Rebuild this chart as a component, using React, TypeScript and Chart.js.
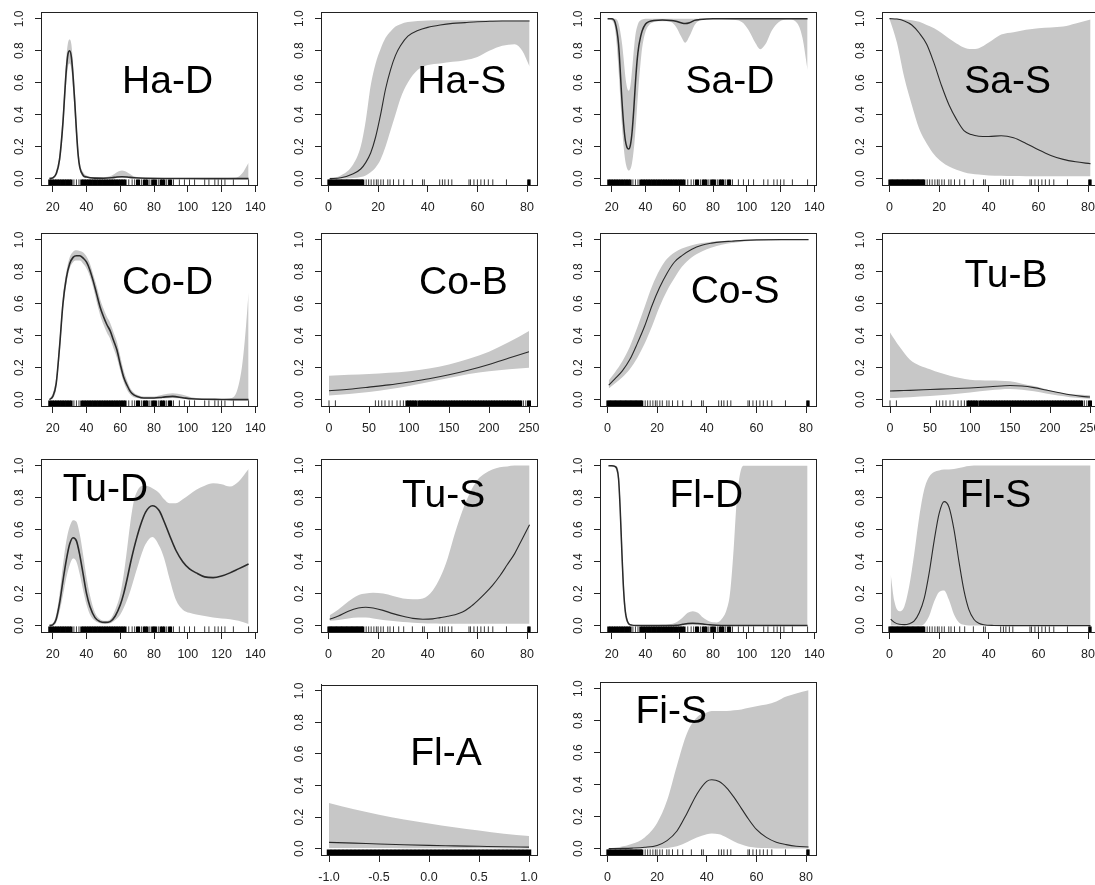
import React, { useEffect, useRef } from "react";
import { Chart, registerables } from "chart.js";

Chart.register(...registerables);

// ---------- axis ticks ----------
const Y_TICKS = [0, 0.2, 0.4, 0.6, 0.8, 1.0];
const Y_TICK_LABELS = ["0.0", "0.2", "0.4", "0.6", "0.8", "1.0"];
const D_TICKS = [20, 40, 60, 80, 100, 120, 140];
const D_TICK_LABELS = ["20", "40", "60", "80", "100", "120", "140"];
const S_TICKS = [0, 20, 40, 60, 80];
const S_TICK_LABELS = ["0", "20", "40", "60", "80"];
const B_TICKS = [0, 50, 100, 150, 200, 250];
const B_TICK_LABELS = ["0", "50", "100", "150", "200", "250"];
const A_TICKS = [-1, -0.5, 0, 0.5, 1];
const A_TICK_LABELS = ["-1.0", "-0.5", "0.0", "0.5", "1.0"];

// ---------- rug observations ----------
const RUG_D = [18, 19, 20, 21, 22, 23, 24, 25, 26, 27, 28, 29, 30, 31, 32.5, 34, 35.5, 37, 38, 39, 40, 41, 42, 43, 44, 45, 46, 47, 48, 49, 50, 51, 52, 53, 54, 55, 56, 57, 58, 59, 60, 61, 62, 63, 65, 67, 68.5, 70, 71, 72.5, 74, 75, 76, 77.5, 79, 80, 81, 82.5, 84, 85, 86, 87.5, 89, 90, 91.5, 95, 98, 101, 104, 110, 112.5, 116, 118, 120, 122, 127, 136];
const RUG_S = [0, 0.5, 1, 1.5, 2, 2.5, 3, 3.5, 4, 4.5, 5, 5.5, 6, 6.5, 7, 7.5, 8, 8.5, 9, 9.5, 10, 10.5, 11, 11.5, 12, 12.5, 13, 13.5, 14, 15.2, 16.2, 17.2, 18.3, 19.3, 20, 21.1, 22.1, 23.9, 24.8, 26.2, 28.3, 30.3, 33.8, 37.9, 38.6, 44.8, 45.9, 46.9, 48.3, 49.7, 56.6, 57.2, 58.6, 60, 61.4, 62.8, 64.4, 66.2, 71.7, 80.5, 81];
const RUG_B = [0, 8, 58, 62, 66, 70, 75, 79, 85, 89, 93, 97, 99, 101, 103, 105, 107, 109, 112, 114, 116, 118, 120, 122, 124, 126, 128, 130, 132, 134, 136, 138, 140, 142, 144, 146, 148, 150, 152, 154, 156, 158, 160, 162, 164, 166, 168, 170, 172, 174, 176, 178, 180, 182, 184, 186, 188, 190, 192, 194, 196, 198, 200, 202, 204, 206, 208, 210, 212, 214, 216, 218, 220, 222, 224, 226, 228, 230, 232, 234, 236, 238, 240, 243, 246, 249, 251];
const RUG_A = [-1, -0.96, -0.92, -0.88, -0.84, -0.8, -0.76, -0.72, -0.68, -0.64, -0.6, -0.56, -0.52, -0.48, -0.44, -0.4, -0.36, -0.32, -0.28, -0.24, -0.2, -0.16, -0.12, -0.08, -0.04, 0, 0.04, 0.08, 0.12, 0.16, 0.2, 0.24, 0.28, 0.32, 0.36, 0.4, 0.44, 0.48, 0.52, 0.56, 0.6, 0.64, 0.68, 0.72, 0.76, 0.8, 0.84, 0.88, 0.92, 0.96, 1];

// ---------- series ----------
const HAD_X = [18, 20, 22, 24, 26, 27, 28, 29, 30, 31, 32, 33, 34, 35, 36, 38, 40, 45, 50, 55, 58, 61, 64, 68, 75, 90, 110, 128, 132, 136];
const HAD_MEAN = [0, 0.005, 0.03, 0.12, 0.35, 0.52, 0.68, 0.78, 0.8, 0.76, 0.64, 0.48, 0.3, 0.15, 0.07, 0.02, 0.01, 0.003, 0.002, 0.005, 0.01, 0.012, 0.01, 0.005, 0.002, 0.001, 0, 0, 0, 0];
const HAD_LO = [0, 0.002, 0.02, 0.09, 0.29, 0.45, 0.6, 0.7, 0.72, 0.68, 0.56, 0.4, 0.24, 0.11, 0.05, 0.01, 0.005, 0.001, 0.001, 0.002, 0.004, 0.005, 0.004, 0.002, 0.001, 0, 0, 0, 0, 0];
const HAD_HI = [0.01, 0.01, 0.05, 0.16, 0.42, 0.6, 0.76, 0.85, 0.87, 0.84, 0.72, 0.56, 0.37, 0.2, 0.1, 0.04, 0.02, 0.01, 0.01, 0.02, 0.04, 0.05, 0.04, 0.015, 0.005, 0.003, 0.002, 0.005, 0.03, 0.1];

const HAS_X = [0.5, 5, 10, 13, 15, 17, 19, 21, 23, 25, 27, 29, 32, 36, 40, 45, 50, 55, 60, 65, 70, 75, 78, 81];
const HAS_MEAN = [0, 0.005, 0.03, 0.06, 0.1, 0.16, 0.26, 0.4, 0.56, 0.68, 0.77, 0.83, 0.89, 0.925, 0.945, 0.96, 0.97, 0.975, 0.98, 0.983, 0.985, 0.985, 0.985, 0.985];
const HAS_LO = [0, 0, 0.003, 0.01, 0.02, 0.04, 0.07, 0.12, 0.2, 0.3, 0.4, 0.5, 0.6, 0.68, 0.71, 0.72, 0.73, 0.74, 0.76, 0.8, 0.83, 0.84, 0.8, 0.7];
const HAS_HI = [0.005, 0.02, 0.09, 0.2, 0.36, 0.58, 0.72, 0.81, 0.88, 0.92, 0.95, 0.965, 0.978, 0.985, 0.988, 0.99, 0.99, 0.99, 0.99, 0.99, 0.99, 0.99, 0.99, 0.99];

const SAD_X = [17.5, 20, 22, 24, 26, 27, 28, 29, 30, 31, 32, 33, 34, 35, 36, 37, 38, 40, 42, 45, 50, 55, 58, 61, 63.5, 66, 69, 72, 80, 90, 97, 101, 105, 108, 111, 115, 119, 125, 130, 133, 136];
const SAD_MEAN = [1, 1, 0.975, 0.84, 0.49, 0.34, 0.24, 0.195, 0.185, 0.21, 0.29, 0.43, 0.6, 0.74, 0.83, 0.885, 0.925, 0.967, 0.982, 0.99, 0.992, 0.99, 0.985, 0.975, 0.97, 0.975, 0.99, 0.995, 1, 1, 1, 1, 1, 1, 1, 1, 1, 1, 1, 1, 1];
const SAD_LO = [1, 0.99, 0.93, 0.68, 0.33, 0.2, 0.11, 0.065, 0.05, 0.06, 0.1, 0.18, 0.3, 0.45, 0.6, 0.72, 0.82, 0.92, 0.96, 0.98, 0.985, 0.98, 0.95, 0.89, 0.85, 0.89, 0.96, 0.99, 1, 0.995, 0.98, 0.93, 0.85, 0.81, 0.84, 0.93, 0.98, 0.995, 0.97, 0.88, 0.68];
const SAD_HI = [1, 1, 1, 0.97, 0.85, 0.75, 0.64, 0.57, 0.55, 0.58, 0.68, 0.8, 0.9, 0.95, 0.98, 0.99, 0.995, 1, 1, 1, 1, 1, 1, 1, 1, 1, 1, 1, 1, 1, 1, 1, 1, 1, 1, 1, 1, 1, 1, 1, 1];

const SAS_X = [0, 3, 6, 9, 12, 15, 18, 21, 24, 27, 30, 33, 36, 40, 45, 50, 55, 60, 65, 70, 75, 81];
const SAS_MEAN = [1, 0.997, 0.985, 0.96, 0.91, 0.84, 0.72, 0.58, 0.46, 0.37, 0.3, 0.275, 0.265, 0.263, 0.268, 0.255, 0.22, 0.18, 0.145, 0.12, 0.105, 0.093];
const SAS_LO = [1, 0.85, 0.63, 0.46, 0.31, 0.22, 0.15, 0.105, 0.075, 0.055, 0.04, 0.03, 0.025, 0.02, 0.018, 0.016, 0.015, 0.015, 0.015, 0.015, 0.015, 0.015];
const SAS_HI = [1, 1, 0.995, 0.99, 0.98, 0.96, 0.94, 0.91, 0.875, 0.845, 0.82, 0.81, 0.815, 0.85, 0.9, 0.915, 0.93, 0.94, 0.945, 0.95, 0.97, 0.995];

const COD_X = [18, 20, 22, 24, 26, 28, 30, 32, 34, 36, 38, 40, 42, 44, 46, 48, 50, 52, 54, 56, 58, 60, 62, 64, 66, 68, 70, 74, 80, 85, 91, 97, 102, 110, 120, 126, 129, 132, 134, 136];
const COD_MEAN = [0, 0.02, 0.1, 0.33, 0.6, 0.76, 0.85, 0.89, 0.9, 0.9, 0.885, 0.86, 0.81, 0.74, 0.66, 0.58, 0.52, 0.47, 0.43, 0.37, 0.31, 0.22, 0.14, 0.09, 0.05, 0.03, 0.02, 0.01, 0.01, 0.015, 0.02, 0.012, 0.005, 0.002, 0.001, 0, 0, 0, 0, 0];
const COD_LO = [0, 0.01, 0.07, 0.28, 0.55, 0.72, 0.82, 0.86, 0.87, 0.87, 0.85, 0.82, 0.77, 0.7, 0.61, 0.53, 0.47, 0.42, 0.38, 0.32, 0.26, 0.18, 0.11, 0.06, 0.03, 0.015, 0.01, 0.004, 0.004, 0.007, 0.01, 0.005, 0.001, 0, 0, 0, 0, 0, 0, 0];
const COD_HI = [0.005, 0.04, 0.14, 0.38, 0.65, 0.8, 0.89, 0.925, 0.935, 0.93, 0.92, 0.895, 0.85, 0.78, 0.71, 0.63, 0.57, 0.52, 0.48, 0.42, 0.36, 0.27, 0.18, 0.12, 0.07, 0.045, 0.03, 0.02, 0.02, 0.03, 0.04, 0.03, 0.015, 0.006, 0.004, 0.01, 0.05, 0.2, 0.4, 0.67];

const COB_X = [0, 25, 50, 75, 100, 125, 150, 175, 200, 225, 250];
const COB_MEAN = [0.055, 0.065, 0.078, 0.092, 0.11, 0.13, 0.155, 0.185, 0.22, 0.26, 0.3];
const COB_LO = [0.025, 0.035, 0.048, 0.065, 0.085, 0.11, 0.135, 0.16, 0.178, 0.19, 0.2];
const COB_HI = [0.15, 0.155, 0.16, 0.168, 0.178, 0.195, 0.22, 0.255, 0.3, 0.36, 0.43];

const COS_X = [0.5, 3, 6, 9, 12, 15, 18, 21, 24, 27, 30, 34, 38, 42, 46, 50, 55, 60, 70, 81];
const COS_MEAN = [0.09, 0.13, 0.18, 0.25, 0.35, 0.46, 0.59, 0.7, 0.79, 0.86, 0.9, 0.94, 0.965, 0.978, 0.986, 0.99, 0.995, 0.998, 1, 1];
const COS_LO = [0.07, 0.1, 0.14, 0.19, 0.26, 0.35, 0.46, 0.58, 0.68, 0.76, 0.83, 0.89, 0.925, 0.95, 0.968, 0.978, 0.988, 0.993, 0.998, 1];
const COS_HI = [0.12, 0.17, 0.24, 0.33, 0.45, 0.58, 0.71, 0.81, 0.88, 0.92, 0.945, 0.965, 0.978, 0.987, 0.992, 0.995, 0.998, 0.999, 1, 1];

const TUB_X = [0, 12, 25, 50, 75, 100, 125, 150, 165, 180, 195, 210, 225, 240, 250];
const TUB_MEAN = [0.054, 0.056, 0.058, 0.063, 0.068, 0.073, 0.08, 0.088, 0.085, 0.075, 0.06, 0.045, 0.03, 0.02, 0.016];
const TUB_LO = [0.01, 0.012, 0.015, 0.022, 0.032, 0.045, 0.058, 0.066, 0.062, 0.052, 0.038, 0.025, 0.015, 0.009, 0.006];
const TUB_HI = [0.42, 0.33, 0.25, 0.19, 0.15, 0.125, 0.12, 0.115, 0.1, 0.085, 0.065, 0.045, 0.035, 0.03, 0.028];

const TUD_X = [18, 20, 22, 24, 26, 28, 30, 32, 34, 36, 38, 40, 42, 45, 48, 51, 54, 57, 60, 62, 64, 66, 68, 70, 72, 75, 79, 83, 86, 89, 93, 97, 101, 105, 110, 115, 120, 125, 130, 136];
const TUD_MEAN = [0, 0.005, 0.04, 0.14, 0.28, 0.41, 0.51, 0.55, 0.53, 0.44, 0.32, 0.2, 0.12, 0.05, 0.025, 0.02, 0.025, 0.06, 0.13, 0.2, 0.29, 0.39, 0.48, 0.56, 0.63, 0.71, 0.75, 0.72, 0.65, 0.57, 0.47, 0.4, 0.355, 0.33, 0.305, 0.3, 0.31, 0.33, 0.355, 0.385];
const TUD_LO = [0, 0.002, 0.02, 0.09, 0.19, 0.3, 0.38, 0.42, 0.4, 0.32, 0.22, 0.13, 0.07, 0.03, 0.015, 0.012, 0.015, 0.035, 0.07, 0.11, 0.16, 0.22, 0.29, 0.36, 0.43, 0.51, 0.555, 0.5, 0.42, 0.3, 0.16, 0.1, 0.08, 0.07, 0.06, 0.05, 0.045, 0.04, 0.03, 0.01];
const TUD_HI = [0.01, 0.015, 0.07, 0.2, 0.38, 0.53, 0.62, 0.66, 0.65, 0.57, 0.44, 0.3, 0.19, 0.08, 0.04, 0.03, 0.04, 0.1, 0.2, 0.32, 0.48, 0.65, 0.78, 0.84, 0.87, 0.875, 0.86, 0.83, 0.79, 0.765, 0.765, 0.79, 0.82, 0.85, 0.875, 0.89, 0.885, 0.87, 0.9, 0.98];

const TUS_X = [0.5, 4, 8, 12, 15, 18, 22, 26, 30, 34, 38, 42, 45, 48, 51, 54, 57, 60, 63, 66, 69, 72, 75, 78, 81];
const TUS_MEAN = [0.04, 0.06, 0.09, 0.11, 0.115, 0.11, 0.095, 0.075, 0.058, 0.045, 0.04, 0.042, 0.05, 0.058, 0.068, 0.085, 0.115, 0.155, 0.2, 0.25, 0.31, 0.38, 0.45, 0.54, 0.63];
const TUS_LO = [0.03, 0.035, 0.045, 0.05, 0.05, 0.045, 0.035, 0.028, 0.022, 0.018, 0.015, 0.013, 0.012, 0.012, 0.012, 0.012, 0.012, 0.012, 0.012, 0.012, 0.012, 0.012, 0.012, 0.012, 0.012];
const TUS_HI = [0.065, 0.1, 0.15, 0.19, 0.2, 0.205, 0.2, 0.185, 0.17, 0.165, 0.17, 0.22, 0.3, 0.42, 0.58, 0.72, 0.83, 0.91, 0.95, 0.975, 0.99, 0.995, 1, 1, 1];

const FLD_X = [18, 20, 22, 23, 24, 25, 26, 27, 28, 29, 30, 32, 35, 40, 50, 58, 62, 65, 68, 71, 74, 78, 82, 85, 88, 90, 92, 94, 96, 98, 105, 120, 136];
const FLD_MEAN = [1, 1, 0.995, 0.98, 0.92, 0.72, 0.45, 0.22, 0.09, 0.035, 0.012, 0.003, 0.001, 0, 0, 0.002, 0.008, 0.013, 0.015, 0.013, 0.01, 0.005, 0.002, 0.001, 0.001, 0.001, 0.001, 0.001, 0.001, 0.001, 0.001, 0.001, 0.001];
const FLD_LO = [1, 0.995, 0.99, 0.96, 0.87, 0.63, 0.36, 0.15, 0.05, 0.02, 0.006, 0.001, 0, 0, 0, 0, 0.001, 0.002, 0.003, 0.002, 0.001, 0, 0, 0, 0, 0, 0, 0, 0, 0, 0, 0, 0];
const FLD_HI = [1, 1, 1, 0.995, 0.96, 0.8, 0.55, 0.3, 0.13, 0.05, 0.02, 0.006, 0.003, 0.002, 0.005, 0.02, 0.05, 0.08, 0.09, 0.08, 0.05, 0.025, 0.02, 0.04, 0.1, 0.2, 0.45, 0.78, 0.95, 1, 1, 1, 1];

const FLS_X = [0.5, 2, 4, 6, 8, 10, 12, 14, 16, 18, 20, 22, 24, 26, 28, 30, 32, 34, 36, 38, 42, 50, 60, 70, 81];
const FLS_MEAN = [0.04, 0.02, 0.008, 0.006, 0.012, 0.03, 0.08, 0.17, 0.33, 0.53, 0.7, 0.775, 0.74, 0.6, 0.4, 0.22, 0.1, 0.04, 0.015, 0.005, 0.001, 0, 0, 0, 0];
const FLS_LO = [0, 0, 0, 0, 0, 0, 0, 0.01, 0.06, 0.15, 0.21, 0.22, 0.16, 0.07, 0.02, 0.005, 0, 0, 0, 0, 0, 0, 0, 0, 0];
const FLS_HI = [0.32, 0.15, 0.09, 0.12, 0.25, 0.45, 0.68, 0.85, 0.93, 0.96, 0.97, 0.975, 0.975, 0.978, 0.985, 0.992, 0.997, 1, 1, 1, 1, 1, 1, 1, 1];

const FLA_X = [-1, -0.75, -0.5, -0.25, 0, 0.25, 0.5, 0.75, 1];
const FLA_MEAN = [0.04, 0.035, 0.03, 0.025, 0.021, 0.018, 0.015, 0.012, 0.01];
const FLA_LO = [0.005, 0.004, 0.004, 0.003, 0.003, 0.002, 0.002, 0.001, 0.001];
const FLA_HI = [0.29, 0.25, 0.215, 0.185, 0.16, 0.135, 0.115, 0.095, 0.08];

const FIS_X = [0.5, 5, 10, 15, 20, 24, 28, 32, 36, 40, 42, 45, 48, 51, 54, 57, 60, 64, 68, 72, 76, 81];
const FIS_MEAN = [0, 0.001, 0.003, 0.008, 0.02, 0.05, 0.11, 0.22, 0.34, 0.42, 0.43, 0.42, 0.38, 0.32, 0.25, 0.18, 0.12, 0.07, 0.04, 0.025, 0.015, 0.01];
const FIS_LO = [0, 0, 0, 0, 0.001, 0.004, 0.015, 0.04, 0.07, 0.09, 0.095, 0.09, 0.07, 0.045, 0.025, 0.012, 0.006, 0.003, 0.001, 0.001, 0, 0];
const FIS_HI = [0.002, 0.01, 0.03, 0.07, 0.16, 0.3, 0.52, 0.72, 0.82, 0.85, 0.86, 0.86, 0.86, 0.865, 0.87, 0.88, 0.89, 0.9, 0.92, 0.95, 0.97, 0.99];

// ---------- layout / style ----------
const COL_LEFT = [41, 321, 600, 882];
const ROW_TOP = [12, 233, 459, 682];
const BOX_W = 216;
const BOX_H = 173;
const AXIS_W = 42;
const AXIS_H = 40;
const PAD_T = 6;
const PAD_R = 14;
const CANVAS_W = AXIS_W + BOX_W + PAD_R;
const CANVAS_H = PAD_T + BOX_H + AXIS_H;
const FONT = '"Liberation Sans", Arial, Helvetica, sans-serif';
const BAND = "rgb(199,199,199)";
const LINE = "#2a2a2a";
const AXIS = "#222";
const RUG_Y = -0.023;

type XType = "D" | "S" | "B" | "A";
const XTYPES: Record<XType, { min: number; max: number; ticks: number[]; labels: string[]; rug: number[]; denseGap: number; denseW: number }> = {
  D: { min: 13, max: 141, ticks: D_TICKS, labels: D_TICK_LABELS, rug: RUG_D, denseGap: 1.05, denseW: 2.4 },
  S: { min: -3, max: 84, ticks: S_TICKS, labels: S_TICK_LABELS, rug: RUG_S, denseGap: 0.55, denseW: 2.2 },
  B: { min: -10, max: 260, ticks: B_TICKS, labels: B_TICK_LABELS, rug: RUG_B, denseGap: 2.1, denseW: 2.4 },
  A: { min: -1.08, max: 1.08, ticks: A_TICKS, labels: A_TICK_LABELS, rug: RUG_A, denseGap: 0.05, denseW: 4.5 },
};

type PanelDef = {
  name: string; row: number; col: number; xt: XType;
  xs: number[]; mean: number[]; lo: number[]; hi: number[];
  lx: number; ly: number; lw: number;
};

const PANELS: PanelDef[] = [
  { name: "Ha-D", row: 0, col: 0, xt: "D", xs: HAD_X, mean: HAD_MEAN, lo: HAD_LO, hi: HAD_HI, lx: 88, ly: 0.6, lw: 1.6 },
  { name: "Ha-S", row: 0, col: 1, xt: "S", xs: HAS_X, mean: HAS_MEAN, lo: HAS_LO, hi: HAS_HI, lx: 53.7, ly: 0.6, lw: 1.1 },
  { name: "Sa-D", row: 0, col: 2, xt: "D", xs: SAD_X, mean: SAD_MEAN, lo: SAD_LO, hi: SAD_HI, lx: 90, ly: 0.6, lw: 1.5 },
  { name: "Sa-S", row: 0, col: 3, xt: "S", xs: SAS_X, mean: SAS_MEAN, lo: SAS_LO, hi: SAS_HI, lx: 47.6, ly: 0.6, lw: 1.1 },
  { name: "Co-D", row: 1, col: 0, xt: "D", xs: COD_X, mean: COD_MEAN, lo: COD_LO, hi: COD_HI, lx: 88, ly: 0.725, lw: 1.6 },
  { name: "Co-B", row: 1, col: 1, xt: "B", xs: COB_X, mean: COB_MEAN, lo: COB_LO, hi: COB_HI, lx: 168, ly: 0.725, lw: 1.1 },
  { name: "Co-S", row: 1, col: 2, xt: "S", xs: COS_X, mean: COS_MEAN, lo: COS_LO, hi: COS_HI, lx: 51.4, ly: 0.67, lw: 1.1 },
  { name: "Tu-B", row: 1, col: 3, xt: "B", xs: TUB_X, mean: TUB_MEAN, lo: TUB_LO, hi: TUB_HI, lx: 145, ly: 0.77, lw: 1.1 },
  { name: "Tu-D", row: 2, col: 0, xt: "D", xs: TUD_X, mean: TUD_MEAN, lo: TUD_LO, hi: TUD_HI, lx: 51.2, ly: 0.845, lw: 1.6 },
  { name: "Tu-S", row: 2, col: 1, xt: "S", xs: TUS_X, mean: TUS_MEAN, lo: TUS_LO, hi: TUS_HI, lx: 46.4, ly: 0.81, lw: 1.1 },
  { name: "Fl-D", row: 2, col: 2, xt: "D", xs: FLD_X, mean: FLD_MEAN, lo: FLD_LO, hi: FLD_HI, lx: 76, ly: 0.81, lw: 1.5 },
  { name: "Fl-S", row: 2, col: 3, xt: "S", xs: FLS_X, mean: FLS_MEAN, lo: FLS_LO, hi: FLS_HI, lx: 42.7, ly: 0.81, lw: 1.1 },
  { name: "Fl-A", row: 3, col: 1, xt: "A", xs: FLA_X, mean: FLA_MEAN, lo: FLA_LO, hi: FLA_HI, lx: 0.17, ly: 0.6, lw: 1.1 },
  { name: "Fi-S", row: 3, col: 2, xt: "S", xs: FIS_X, mean: FIS_MEAN, lo: FIS_LO, hi: FIS_HI, lx: 25.7, ly: 0.85, lw: 1.1 },
];

function pts(xs: number[], ys: number[]) {
  return xs.map((x, i) => ({ x, y: ys[i] }));
}

function zeroPad(s: any) {
  s.paddingLeft = 0;
  s.paddingRight = 0;
  s.paddingTop = 0;
  s.paddingBottom = 0;
}

function isDense(arr: number[], i: number, gap: number) {
  if (i === undefined || i < 0 || i >= arr.length) return false;
  const a = arr[i];
  const prev = i > 0 ? a - arr[i - 1] : Infinity;
  const next = i < arr.length - 1 ? arr[i + 1] - a : Infinity;
  return Math.min(prev, next) <= gap;
}

function Panel({ p }: { p: PanelDef }) {
  const ref = useRef<HTMLCanvasElement>(null);
  useEffect(() => {
    const t = XTYPES[p.xt];
    const framePlugin = {
      id: "frame",
      afterDraw(chart: any) {
        const { ctx, chartArea: a } = chart;
        const l = Math.round(a.left), tp = Math.round(a.top), r = Math.round(a.right), b = Math.round(a.bottom);
        ctx.save();
        ctx.strokeStyle = AXIS;
        ctx.lineWidth = 1;
        ctx.strokeRect(l + 0.5, tp + 0.5, r - l, b - tp);
        ctx.fillStyle = "#000";
        ctx.font = `39px ${FONT}`;
        ctx.textAlign = "center";
        ctx.textBaseline = "middle";
        ctx.fillText(p.name, chart.scales.x.getPixelForValue(p.lx), chart.scales.y.getPixelForValue(p.ly));
        ctx.restore();
      },
    };
    const chart = new Chart(ref.current as HTMLCanvasElement, {
      type: "line",
      data: {
        datasets: [
          {
            label: "rug",
            data: t.rug.map((x) => ({ x, y: RUG_Y })),
            showLine: false,
            pointStyle: "line",
            pointRotation: 90,
            pointRadius: 2.9,
            pointBorderWidth: (c: any) => (isDense(t.rug, c.dataIndex, t.denseGap) ? t.denseW : 1),
            pointBorderColor: (c: any) => (isDense(t.rug, c.dataIndex, t.denseGap) ? "#000" : "#3a3a3a"),
            pointBackgroundColor: "#000",
            borderColor: "#000",
          } as any,
          {
            label: "mean",
            data: pts(p.xs, p.mean),
            borderColor: LINE,
            borderWidth: p.lw,
            pointRadius: 0,
            fill: false,
            cubicInterpolationMode: "monotone",
          } as any,
          {
            label: "upper",
            data: pts(p.xs, p.hi),
            borderColor: "rgba(0,0,0,0)",
            borderWidth: 0,
            pointRadius: 0,
            backgroundColor: BAND,
            fill: "+1",
            cubicInterpolationMode: "monotone",
          } as any,
          {
            label: "lower",
            data: pts(p.xs, p.lo),
            borderColor: "rgba(0,0,0,0)",
            borderWidth: 0,
            pointRadius: 0,
            fill: false,
            cubicInterpolationMode: "monotone",
          } as any,
        ],
      },
      options: {
        animation: false,
        responsive: false,
        devicePixelRatio: 1,
        events: [],
        layout: { padding: { top: PAD_T, right: PAD_R, left: 0, bottom: 0 } },
        plugins: {
          legend: { display: false },
          tooltip: { enabled: false },
          filler: { drawTime: "beforeDatasetsDraw" } as any,
        },
        scales: {
          x: {
            type: "linear",
            min: t.min,
            max: t.max,
            bounds: "data",
            afterBuildTicks: (s: any) => {
              s.ticks = t.ticks.map((v) => ({ value: v }));
            },
            afterFit: (s: any) => {
              s.height = AXIS_H;
              zeroPad(s);
            },
            ticks: {
              autoSkip: false,
              minRotation: 0,
              maxRotation: 0,
              padding: 8,
              color: AXIS,
              font: { family: FONT, size: 12.5 },
              callback: (v: any) => {
                const i = t.ticks.indexOf(Number(v));
                return i >= 0 ? t.labels[i] : "";
              },
            },
            grid: { display: true, drawOnChartArea: false, drawTicks: true, tickLength: 7, color: AXIS, lineWidth: 1 },
            border: { display: true, color: AXIS, width: 1 },
          },
          y: {
            type: "linear",
            min: -0.04,
            max: 1.04,
            bounds: "data",
            afterBuildTicks: (s: any) => {
              s.ticks = Y_TICKS.map((v) => ({ value: v }));
            },
            afterFit: (s: any) => {
              s.width = AXIS_W;
              zeroPad(s);
            },
            ticks: {
              autoSkip: false,
              minRotation: 90,
              maxRotation: 90,
              crossAlign: "center",
              padding: 7,
              color: AXIS,
              font: { family: FONT, size: 12 },
              callback: (v: any) => {
                const i = Y_TICKS.indexOf(Number(v));
                return i >= 0 ? Y_TICK_LABELS[i] : "";
              },
            },
            grid: { display: true, drawOnChartArea: false, drawTicks: true, tickLength: 6, color: AXIS, lineWidth: 1 },
            border: { display: true, color: AXIS, width: 1 },
          },
        },
      } as any,
      plugins: [framePlugin],
    });
    return () => chart.destroy();
  }, []);
  const left = COL_LEFT[p.col] - AXIS_W;
  const top = ROW_TOP[p.row] - PAD_T;
  return (
    <canvas
      ref={ref}
      width={CANVAS_W}
      height={CANVAS_H}
      style={{ position: "absolute", left, top, width: CANVAS_W, height: CANVAS_H }}
    />
  );
}

export default function App() {
  return (
    <div
      style={{
        position: "fixed",
        left: 0,
        top: 0,
        width: 1095,
        height: 885,
        overflow: "hidden",
        background: "#fff",
      }}
    >
      {PANELS.map((p) => (
        <Panel key={p.name} p={p} />
      ))}
    </div>
  );
}
